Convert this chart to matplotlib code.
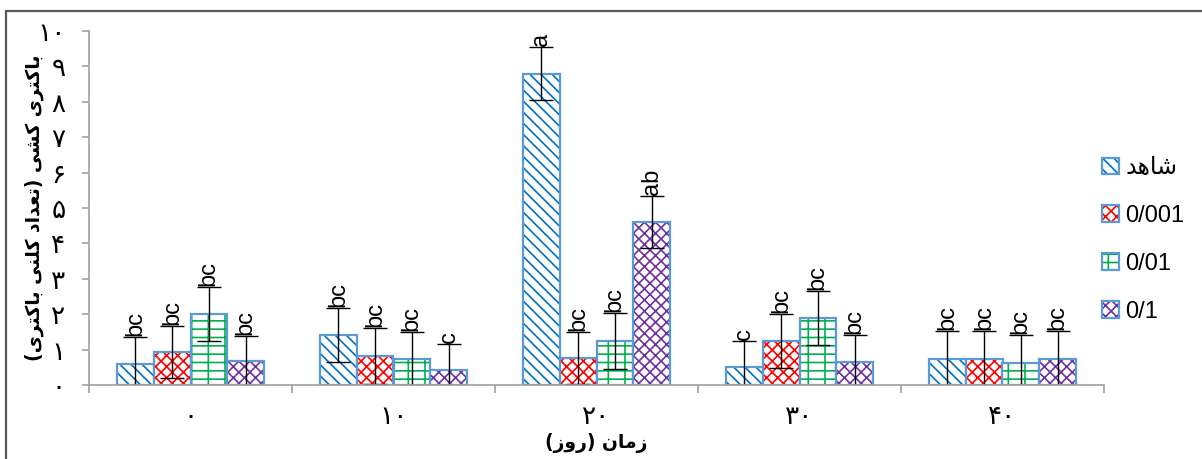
import numpy as np
import matplotlib
matplotlib.use('Agg')
import matplotlib.pyplot as plt
from matplotlib.patches import Rectangle, Patch

# ------------------------------------------------------------
# data
# ------------------------------------------------------------
days = [0, 10, 20, 30, 40]
series_names = ['شاهد', '0/001', '0/01', '0/1']

control = [0.59, 1.41, 8.79, 0.51, 0.73]
conc_0001 = [0.93, 0.82, 0.76, 1.24, 0.73]
conc_001 = [2.00, 0.73, 1.24, 1.89, 0.62]
conc_01 = [0.68, 0.42, 4.60, 0.65, 0.73]

err_control = [0.77, 0.77, 0.75, 0.73, 0.80]
err_0001 = [0.74, 0.79, 0.74, 0.76, 0.80]
err_001 = [0.77, 0.77, 0.79, 0.77, 0.79]
err_01 = [0.70, 0.74, 0.74, 0.76, 0.80]

let_control = ['bc', 'bc', 'a', 'c', 'bc']
let_0001 = ['bc', 'bc', 'bc', 'bc', 'bc']
let_001 = ['bc', 'bc', 'bc', 'bc', 'bc']
let_01 = ['bc', 'c', 'ab', 'bc', 'bc']

y_label = 'باکتری کشی (تعداد کلنی باکتری)'
x_label = 'زمان (روز)'

# ------------------------------------------------------------
# matplotlib has no Arabic shaping: build presentation forms by hand
# ------------------------------------------------------------
FORMS = {
    '\u0627': ('\uFE8D', '\uFE8E', None, None),          # alef
    '\u0628': ('\uFE8F', '\uFE90', '\uFE91', '\uFE92'),  # beh
    '\u062A': ('\uFE95', '\uFE96', '\uFE97', '\uFE98'),  # teh
    '\u062F': ('\uFEA9', '\uFEAA', None, None),          # dal
    '\u0631': ('\uFEAD', '\uFEAE', None, None),          # reh
    '\u0632': ('\uFEAF', '\uFEB0', None, None),          # zain
    '\u0634': ('\uFEB5', '\uFEB6', '\uFEB7', '\uFEB8'),  # sheen
    '\u0639': ('\uFEC9', '\uFECA', '\uFECB', '\uFECC'),  # ain
    '\u0644': ('\uFEDD', '\uFEDE', '\uFEDF', '\uFEE0'),  # lam
    '\u0645': ('\uFEE1', '\uFEE2', '\uFEE3', '\uFEE4'),  # meem
    '\u0646': ('\uFEE5', '\uFEE6', '\uFEE7', '\uFEE8'),  # noon
    '\u0647': ('\uFEE9', '\uFEEA', '\uFEEB', '\uFEEC'),  # heh
    '\u0648': ('\uFEED', '\uFEEE', None, None),          # waw
    '\u06A9': ('\uFB8E', '\uFB8F', '\uFB90', '\uFB91'),  # keheh
    '\u0643': ('\uFB8E', '\uFB8F', '\uFB90', '\uFB91'),
    '\u06CC': ('\uFBFC', '\uFBFD', '\uFBFE', '\uFBFF'),  # farsi yeh
    '\u064A': ('\uFBFC', '\uFBFD', '\uFBFE', '\uFBFF'),
}


def rtl(text):
    out = []
    for i, ch in enumerate(text):
        if ch not in FORMS:
            out.append(ch)
            continue
        iso, fin, ini, med = FORMS[ch]
        prev = text[i - 1] if i > 0 else ''
        nxt = text[i + 1] if i + 1 < len(text) else ''
        p = prev in FORMS and FORMS[prev][2] is not None
        n = nxt in FORMS and ini is not None
        if p and n:
            out.append(med)
        elif p:
            out.append(fin)
        elif n:
            out.append(ini)
        else:
            out.append(iso)
    mirror = {'(': ')', ')': '('}
    return ''.join(mirror.get(c, c) for c in reversed(out))


def fa_num(n):
    return ''.join(chr(0x06F0 + int(d)) for d in str(n))


# ------------------------------------------------------------
# plot
# ------------------------------------------------------------
plt.rcParams['font.family'] = ['Liberation Sans', 'DejaVu Sans']
plt.rcParams['hatch.linewidth'] = 1.2

fig = plt.figure(figsize=(12.02, 4.59), dpi=100)
ax = fig.add_axes([89 / 1202, 1 - 385 / 459, 1015 / 1202, 354 / 459])

values = [control, conc_0001, conc_001, conc_01]
errors = [err_control, err_0001, err_001, err_01]
letters = [let_control, let_0001, let_001, let_01]
hatch_colors = ['#0070C0', '#FF0000', '#00B050', '#7030A0']
hatches = ['\\\\\\', 'xxx', '--|', 'xxx']
edge = '#5B9BD5'

x = np.arange(len(days))
w = 0.181
handles = []
for i in range(4):
    pos = x + (i - 1.5) * w
    ax.bar(pos, values[i], w, color='white', edgecolor=hatch_colors[i],
           hatch=hatches[i], linewidth=0)
    ax.bar(pos, values[i], w, color='none', edgecolor=edge, linewidth=1.6)
    ax.errorbar(pos, values[i], yerr=errors[i], fmt='none', ecolor='black',
                elinewidth=1.0, capsize=8.5, capthick=1.0)
    for xp, v, e, t in zip(pos, values[i], errors[i], letters[i]):
        ax.text(xp, v + e + 0.03, t, rotation=90, ha='center', va='bottom',
                fontsize=17)
    h1 = Patch(facecolor='white', edgecolor=hatch_colors[i], hatch=hatches[i],
               linewidth=0)
    h2 = Patch(facecolor='none', edgecolor=edge, linewidth=1.6)
    handles.append((h1, h2))

ax.set_xlim(-0.5, 4.5)
ax.set_ylim(0, 10)
ax.set_yticks(range(11))
ax.set_yticklabels([fa_num(v) for v in range(11)], fontsize=19,
                   family='DejaVu Sans')
ax.set_xticks(x)
ax.set_xticklabels([fa_num(d) for d in days], fontsize=19,
                   family='DejaVu Sans')
ax.set_xticks(np.arange(-0.5, 5, 1), minor=True)
ax.tick_params(axis='x', which='major', length=0, pad=14)
ax.tick_params(axis='x', which='minor', length=6, color='#A0A0A0', width=1.2)
ax.tick_params(axis='y', length=5, color='#A0A0A0', width=1.2, pad=12)
for s in ['top', 'right']:
    ax.spines[s].set_visible(False)
for s in ['left', 'bottom']:
    ax.spines[s].set_color('#A0A0A0')
    ax.spines[s].set_linewidth(1.2)

ax.set_ylabel(rtl(y_label), fontsize=13.5, fontweight='bold',
              family='DejaVu Sans')
ax.yaxis.set_label_coords(-0.044, 0.5)
ax.set_xlabel(rtl(x_label), fontsize=13.5, fontweight='bold',
              family='DejaVu Sans')
ax.xaxis.set_label_coords(0.5, -0.135)

leg_labels = [rtl(n) if not n[0].isdigit() else n for n in series_names]
fig.legend(handles, leg_labels, loc='center left',
           bbox_to_anchor=(1102 / 1202, 1 - 240 / 459), frameon=False,
           fontsize=17, handlelength=0.7, handleheight=0.7,
           handletextpad=0.3, labelspacing=1.1, borderpad=0,
           borderaxespad=0)

# chart area border
fig.add_artist(Rectangle((6 / 1202, -0.1), 1.2, 1 - 11 / 459 + 0.1,
                         transform=fig.transFigure, fill=False,
                         edgecolor='#595959', linewidth=1.6))

fig.savefig('out.png', dpi=100)
